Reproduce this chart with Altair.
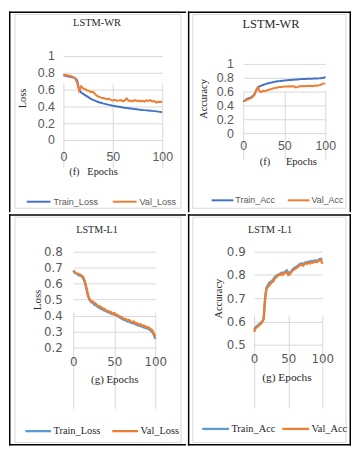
import altair as alt
import pandas as pd

# ---------------- data ----------------
epochs = list(range(0, 101, 2))

wr_train_loss = [0.77, 0.765, 0.76, 0.755, 0.75, 0.745, 0.735, 0.71, 0.60, 0.565,
                 0.55, 0.535, 0.52, 0.505, 0.49, 0.478, 0.468, 0.458, 0.45, 0.443,
                 0.436, 0.43, 0.424, 0.418, 0.413, 0.408, 0.404, 0.40, 0.396, 0.392,
                 0.388, 0.384, 0.381, 0.378, 0.375, 0.372, 0.369, 0.366, 0.363, 0.361,
                 0.358, 0.356, 0.353, 0.351, 0.349, 0.347, 0.344, 0.341, 0.338, 0.335, 0.331]
wr_val_loss = [0.78, 0.775, 0.77, 0.765, 0.76, 0.75, 0.73, 0.68, 0.585, 0.64,
               0.615, 0.605, 0.59, 0.585, 0.57, 0.575, 0.55, 0.525, 0.515, 0.505,
               0.50, 0.495, 0.485, 0.49, 0.478, 0.472, 0.48, 0.468, 0.47, 0.475,
               0.462, 0.47, 0.495, 0.465, 0.47, 0.46, 0.475, 0.465, 0.47, 0.46,
               0.468, 0.458, 0.472, 0.465, 0.475, 0.46, 0.465, 0.445, 0.455, 0.452, 0.458]

wr_train_acc = [0.46, 0.47, 0.49, 0.50, 0.51, 0.52, 0.54, 0.57, 0.62, 0.66,
                0.675, 0.685, 0.695, 0.705, 0.712, 0.72, 0.725, 0.73, 0.735, 0.74,
                0.745, 0.748, 0.751, 0.754, 0.757, 0.76, 0.762, 0.764, 0.766, 0.768,
                0.77, 0.772, 0.774, 0.776, 0.778, 0.78, 0.781, 0.782, 0.783, 0.784,
                0.785, 0.786, 0.787, 0.788, 0.789, 0.79, 0.791, 0.792, 0.795, 0.80, 0.815]
wr_val_acc = [0.46, 0.465, 0.48, 0.485, 0.50, 0.51, 0.53, 0.56, 0.63, 0.665,
              0.60, 0.595, 0.61, 0.605, 0.615, 0.62, 0.63, 0.635, 0.645, 0.65,
              0.655, 0.66, 0.665, 0.665, 0.67, 0.672, 0.675, 0.674, 0.676, 0.673,
              0.678, 0.675, 0.66, 0.664, 0.675, 0.68, 0.678, 0.68, 0.677, 0.682,
              0.68, 0.684, 0.679, 0.683, 0.688, 0.685, 0.69, 0.695, 0.712, 0.715, 0.718]

l1_train_loss = [0.68, 0.665, 0.66, 0.652, 0.648, 0.645, 0.632, 0.608, 0.565, 0.52,
                 0.495, 0.482, 0.478, 0.465, 0.462, 0.452, 0.448, 0.44, 0.438, 0.43,
                 0.428, 0.42, 0.418, 0.412, 0.41, 0.405, 0.402, 0.395, 0.39, 0.383,
                 0.378, 0.372, 0.37, 0.362, 0.362, 0.355, 0.352, 0.35, 0.345, 0.34,
                 0.336, 0.334, 0.33, 0.326, 0.323, 0.32, 0.315, 0.308, 0.298, 0.282, 0.255]
l1_val_loss = [0.675, 0.67, 0.662, 0.66, 0.655, 0.65, 0.64, 0.615, 0.575, 0.53,
               0.50, 0.49, 0.485, 0.478, 0.47, 0.46, 0.458, 0.45, 0.445, 0.44,
               0.432, 0.428, 0.425, 0.42, 0.41, 0.415, 0.405, 0.403, 0.395, 0.392,
               0.385, 0.38, 0.377, 0.37, 0.372, 0.362, 0.36, 0.362, 0.35, 0.352,
               0.342, 0.345, 0.335, 0.338, 0.33, 0.328, 0.325, 0.315, 0.31, 0.29, 0.27]

l1_train_acc = [0.565, 0.575, 0.58, 0.585, 0.59, 0.595, 0.60, 0.615, 0.70, 0.745,
                0.755, 0.765, 0.77, 0.775, 0.78, 0.79, 0.795, 0.80, 0.802, 0.806,
                0.81, 0.808, 0.812, 0.815, 0.82, 0.812, 0.805, 0.815, 0.822, 0.828,
                0.832, 0.836, 0.84, 0.845, 0.848, 0.85, 0.845, 0.852, 0.855, 0.853,
                0.858, 0.856, 0.86, 0.858, 0.862, 0.863, 0.86, 0.865, 0.868, 0.87, 0.866]
l1_val_acc = [0.555, 0.57, 0.575, 0.58, 0.585, 0.59, 0.598, 0.61, 0.69, 0.74,
              0.748, 0.755, 0.762, 0.77, 0.772, 0.785, 0.79, 0.795, 0.80, 0.80,
              0.805, 0.80, 0.808, 0.81, 0.812, 0.80, 0.803, 0.81, 0.818, 0.822,
              0.826, 0.83, 0.835, 0.84, 0.842, 0.845, 0.84, 0.848, 0.85, 0.848,
              0.852, 0.85, 0.855, 0.853, 0.856, 0.858, 0.855, 0.86, 0.862, 0.865, 0.848]

x_ticks = [0, 50, 100]
y_ticks_wr = [0, 0.2, 0.4, 0.6, 0.8, 1.0]
y_ticks_l1_loss = [0.2, 0.3, 0.4, 0.5, 0.6, 0.7, 0.8]
y_ticks_l1_acc = [0.5, 0.6, 0.7, 0.8, 0.9]

# ---------------- styles ----------------
SERIF = "Liberation Serif"
SANS = "Liberation Sans"
WIDE = "DejaVu Sans"
GRID = "#D9D9D9"
LABEL = "#595959"
DARK = "#262626"
ORANGE = "#ED7D31"
BLUE_TOP = "#4472C4"
BLUE_BOT = "#5B9BD5"

one = pd.DataFrame({"k": [0]})


def series_df(train, val, names):
    rows = []
    for e, v in zip(epochs, train):
        rows.append({"epoch": e, "value": v, "series": names[0]})
    for e, v in zip(epochs, val):
        rows.append({"epoch": e, "value": v, "series": names[1]})
    return pd.DataFrame(rows)


def cell(c):
    W, H = c["box"]
    px0, px1, py0, py1 = c["plot"]
    layers = []
    # gray chart-area box
    gx0, gx1, gy0, gy1 = c["gray"]
    layers.append(alt.Chart(one).mark_rect(fillOpacity=0, stroke=GRID, strokeWidth=1).encode(
        x=alt.value(gx0), x2=alt.value(gx1), y=alt.value(gy0), y2=alt.value(gy1)))
    # black table borders
    rules = [("v", 0.75), ("h", 0.75)]
    if c["right"]:
        rules.append(("v", W - 0.75))
    if c["bottom"]:
        rules.append(("h", H - 0.75))
    for kind, p in rules:
        if kind == "v":
            enc = dict(x=alt.value(p), y=alt.value(0), y2=alt.value(H))
        else:
            enc = dict(y=alt.value(p), x=alt.value(0), x2=alt.value(W))
        layers.append(alt.Chart(one).mark_rule(color="#000000", strokeWidth=1.5).encode(**enc))
    # chart title
    tx, ty, tsize = c["title_pos"]
    layers.append(alt.Chart(one).mark_text(font=SERIF, fontSize=tsize, color=DARK,
                                           align="center", baseline="middle").encode(
        x=alt.value(tx), y=alt.value(ty), text=alt.value(c["title"])))
    # lines
    df = series_df(c["train"], c["val"], c["names"])
    lf = c["legend"]
    lines = alt.Chart(df).mark_line(strokeWidth=c["lw"]).encode(
        x=alt.X("epoch:Q",
                scale=alt.Scale(domain=[0, 100], range=[px0, px1], nice=False, zero=False),
                axis=alt.Axis(values=x_ticks, format="d", offset=py1 - H, grid=True,
                              gridColor=GRID, domain=False, ticks=False, tickSize=0,
                              labelFlush=False, labelFont=c["tick_font"],
                              labelFontSize=c["tick_size"], labelColor=LABEL,
                              labelPadding=c["xlab_pad"], title=c["xtitle"],
                              titleFont=SERIF, titleFontSize=c["xtitle_size"],
                              titleFontWeight="normal", titleColor=DARK,
                              titleX=c["xtitle_x"], titleY=c["xtitle_y"],
                              titleAlign="center", titleBaseline="middle")),
        y=alt.Y("value:Q",
                scale=alt.Scale(domain=c["ydom"], range=[py1, py0], nice=False, zero=False),
                axis=alt.Axis(values=c["yticks"], format="~g", offset=-px0, grid=True,
                              gridColor=GRID, domain=False, ticks=False, tickSize=0,
                              labelFont=c["tick_font"], labelFontSize=c["tick_size"],
                              labelColor=LABEL, labelPadding=c["ylab_pad"],
                              title=c["ytitle"], titleFont=SERIF,
                              titleFontSize=c["ytitle_size"], titleFontWeight="normal",
                              titleColor=DARK, titleAngle=270,
                              titleX=c["ytitle_x"], titleY=(py0 + py1) / 2,
                              titleAlign="center", titleBaseline="middle")),
        color=alt.Color("series:N",
                        scale=alt.Scale(domain=c["names"], range=[c["blue"], ORANGE]),
                        legend=alt.Legend(orient="none", legendX=lf[0], legendY=lf[1],
                                          direction="horizontal", title=None,
                                          symbolType="stroke", symbolSize=lf[2],
                                          symbolStrokeWidth=c["lw"],
                                          labelFont=c["leg_font"], labelFontSize=c["leg_size"],
                                          labelColor=c["leg_color"], labelOffset=lf[3],
                                          columnPadding=lf[4], padding=0)),
        order=alt.Order("series:N"),
    )
    layers.append(lines)
    return alt.layer(*layers).properties(width=W, height=H)


NB = "\u00a0"

tl = cell(dict(box=(179, 203), plot=(55, 155, 45, 130), gray=(6, 174, 3, 199),
               right=False, bottom=False, title="LSTM-WR", title_pos=(89, 12, 10.5),
               train=wr_train_loss, val=wr_val_loss, names=["Train_Loss", "Val_Loss"],
               blue=BLUE_TOP, lw=2, ydom=[0, 1], yticks=y_ticks_wr,
               tick_font=SANS, tick_size=12.5, xlab_pad=11, ylab_pad=9,
               xtitle="(f)" + NB * 3 + "Epochs", xtitle_size=10.5, xtitle_x=85, xtitle_y=32,
               ytitle="Loss", ytitle_size=10.5, ytitle_x=-41,
               legend=(17, 179, 576, 2, 10), leg_font=SANS, leg_size=9.2, leg_color=LABEL))

tr = cell(dict(box=(165, 203), plot=(56, 139, 53, 123), gray=(5, 160, 3, 199),
               right=True, bottom=False, title="LSTM-WR", title_pos=(84, 13, 12.5),
               train=wr_train_acc, val=wr_val_acc, names=["Train_Acc", "Val_Acc"],
               blue=BLUE_TOP, lw=2, ydom=[0, 1], yticks=y_ticks_wr,
               tick_font=SANS, tick_size=12.5, xlab_pad=7, ylab_pad=10,
               xtitle="(f)" + NB * 6 + "Epochs", xtitle_size=10.6, xtitle_x=101, xtitle_y=29,
               ytitle="Accuracy", ytitle_size=10.5, ytitle_x=-40,
               legend=(23, 179, 484, 1, 8), leg_font=SANS, leg_size=9, leg_color=LABEL))

bl = cell(dict(box=(179, 234), plot=(65, 148, 37.5, 135), gray=(6, 174, 3, 231),
               right=False, bottom=True, title="LSTM-L1", title_pos=(89, 16, 10.2),
               train=l1_train_loss, val=l1_val_loss, names=["Train_Loss", "Val_Loss"],
               blue=BLUE_BOT, lw=2.3, ydom=[0.2, 0.8], yticks=y_ticks_l1_loss,
               tick_font=WIDE, tick_size=12, xlab_pad=9, ylab_pad=11,
               xtitle="(g) Epochs", xtitle_size=11, xtitle_x=106.5, xtitle_y=32,
               ytitle="Loss", ytitle_size=11, ytitle_x=-36,
               legend=(15, 205, 676, 1, 6), leg_font=SERIF, leg_size=10.5, leg_color=DARK))

br = cell(dict(box=(165, 234), plot=(67, 136, 38, 132), gray=(5, 160, 3, 231),
               right=True, bottom=True, title="LSTM -L1", title_pos=(83, 16, 10.2),
               train=l1_train_acc, val=l1_val_acc, names=["Train_Acc", "Val_Acc"],
               blue=BLUE_BOT, lw=2.3, ydom=[0.5, 0.9], yticks=y_ticks_l1_acc,
               tick_font=WIDE, tick_size=12, xlab_pad=9, ylab_pad=9,
               xtitle="(g) Epochs", xtitle_size=11.5, xtitle_x=99.7, xtitle_y=33,
               ytitle="Accuracy", ytitle_size=10.5, ytitle_x=-36,
               legend=(13, 202, 729, 1, 1), leg_font=SERIF, leg_size=10.5, leg_color=DARK))

top = alt.hconcat(tl, tr, spacing=0).resolve_scale(
    x="independent", y="independent", color="independent").resolve_legend(color="independent")
bottom = alt.hconcat(bl, br, spacing=0).resolve_scale(
    x="independent", y="independent", color="independent").resolve_legend(color="independent")

chart = alt.vconcat(top, bottom, spacing=0).resolve_scale(
    x="independent", y="independent", color="independent").resolve_legend(
    color="independent").properties(padding=0, background="white").configure_view(
    strokeOpacity=0)

chart.save("out.html", embed_options={"renderer": "svg", "actions": False})
